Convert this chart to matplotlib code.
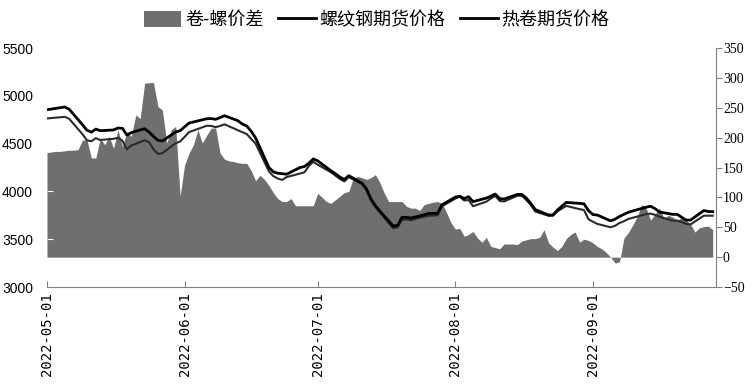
import matplotlib
matplotlib.use('Agg')
import matplotlib.pyplot as plt
import matplotlib.dates as mdates
from matplotlib.patches import Patch
from matplotlib.lines import Line2D
import pandas as pd

# trading days for futures prices (Chinese holidays removed)
holidays = ['2022-05-02', '2022-05-03', '2022-05-04', '2022-06-03', '2022-09-12']
trade_dates = pd.bdate_range('2022-04-29', '2022-09-28').drop(pd.to_datetime(holidays))
spread_dates = pd.date_range('2022-05-01', '2022-09-28')

# 热卷期货价格
hc = [4840,
      4883, 4860, 4697, 4640, 4620, 4652, 4635, 4643, 4663, 4660, 4590, 4615, 4656, 4620, 4575, 4535, 4527, 4622, 4635,
      4675, 4715, 4760, 4762, 4754, 4772, 4792, 4740, 4705, 4685, 4630, 4560, 4250, 4205, 4190, 4185, 4180, 4250, 4260, 4295, 4340,
      4320, 4215, 4185, 4150, 4125, 4165, 4085, 4025, 3920, 3850, 3795, 3638, 3645, 3730, 3728, 3722, 3755, 3770, 3770, 3770, 3860,
      3940, 3950, 3925, 3945, 3893, 3930, 3950, 3972, 3925, 3920, 3969, 3969, 3930, 3875, 3810, 3753, 3753, 3805, 3845, 3885, 3875, 3870, 3800,
      3758, 3753, 3692, 3710, 3738, 3760, 3782, 3835, 3845, 3820, 3785, 3760, 3760, 3730, 3700, 3700, 3800, 3790, 3788]

# 螺纹钢期货价格
rb = [4755,
      4780, 4760, 4598, 4535, 4525, 4557, 4538, 4550, 4562, 4530, 4440, 4480, 4535, 4515, 4440, 4392, 4400, 4505, 4522,
      4570, 4620, 4687, 4685, 4672, 4685, 4702, 4640, 4620, 4600, 4550, 4500, 4210, 4160, 4135, 4120, 4150, 4187, 4200, 4265, 4310,
      4280, 4200, 4165, 4130, 4105, 4150, 4075, 4015, 3905, 3835, 3780, 3615, 3625, 3705, 3705, 3700, 3735, 3745, 3748, 3750, 3845,
      3925, 3945, 3905, 3910, 3845, 3893, 3925, 3955, 3900, 3895, 3955, 3955, 3910, 3860, 3790, 3746, 3746, 3790, 3820, 3848, 3815, 3805, 3710,
      3683, 3660, 3625, 3640, 3670, 3688, 3712, 3762, 3768, 3755, 3735, 3694, 3694, 3680, 3660, 3655, 3746, 3746, 3746]

# 卷-螺价差 (daily)
spread = [175, 176, 177, 177, 178, 179, 179, 180,
          196, 196, 166, 166, 199, 188, 202, 182,
          213, 185, 210, 202, 238, 232, 291, 292,
          292, 252, 246, 191, 213, 219, 102, 154,
          174, 188, 213, 191, 204, 216, 216, 174,
          164, 161, 160, 158, 157, 157, 145, 128,
          137, 130, 120, 108, 98, 93, 93, 98,
          86, 86, 86, 86, 86, 107, 100, 93,
          90, 96, 102, 108, 110, 132, 135, 133,
          130, 133, 138, 125, 107, 93, 93, 93,
          93, 85, 82, 82, 78, 88, 90, 92,
          93, 90, 75, 58, 47, 48, 35, 38,
          43, 32, 25, 33, 18, 16, 14, 22,
          22, 22, 21, 27, 29, 31, 31, 33,
          46, 24, 17, 11, 18, 31, 38, 42,
          25, 30, 28, 24, 18, 14, 8, 0,
          -10, -8, 32, 41, 54, 68, 88, 82,
          62, 72, 82, 65, 70, 67, 62, 66,
          62, 55, 42, 49, 51, 52, 46]

month_ticks = ['2022-05-01', '2022-06-01', '2022-07-01', '2022-08-01', '2022-09-01']
labels = ['卷-螺价差', '螺纹钢期货价格', '热卷期货价格']

plt.rcParams['font.family'] = ['Noto Sans CJK SC', 'DejaVu Sans']

fill_c = '#6f6f6f'
axis_c = '#808080'

fig = plt.figure(figsize=(7.53, 3.85), dpi=100)
ax = fig.add_axes([0.0624, 0.2545, 0.8885, 0.6208])
ax2 = ax.twinx()

ax2.fill_between(spread_dates, 0, spread, color=fill_c, lw=0)
ax.set_zorder(ax2.get_zorder() + 1)
ax.patch.set_visible(False)

ax.plot(trade_dates, rb, color='#2b2b2b', lw=1.5)
ax.plot(trade_dates, hc, color='black', lw=2)

ax.set_xlim(pd.Timestamp('2022-05-01'), pd.Timestamp('2022-09-28 18:00'))
ax.set_ylim(3000, 5500)
ax2.set_ylim(-50, 350)
ax.set_yticks(range(3000, 5501, 500))
ax2.set_yticks(range(-50, 351, 50))
ax.set_xticks(pd.to_datetime(month_ticks))
ax.xaxis.set_major_formatter(mdates.DateFormatter('%Y-%m-%d'))

for s in ['top', 'left', 'right']:
    ax.spines[s].set_visible(False)
for s in ['top', 'left', 'bottom']:
    ax2.spines[s].set_visible(False)
ax.spines['bottom'].set_color(axis_c)
ax2.spines['right'].set_color(axis_c)

ax.tick_params(axis='x', direction='in', length=4, color=axis_c, pad=4,
               labelrotation=90, labelsize=10, labelfontfamily='DejaVu Sans Mono')
ax.tick_params(axis='y', direction='in', length=4, color='white', pad=10,
               labelsize=10, labelfontfamily='Liberation Sans')
ax2.tick_params(axis='y', direction='out', length=4, color=axis_c, pad=1,
                labelsize=10, labelfontfamily='Liberation Serif')

handles = [Patch(facecolor=fill_c, edgecolor='none'),
           Line2D([], [], color='black', lw=2),
           Line2D([], [], color='black', lw=2)]
fig.legend(handles, labels, loc='center', bbox_to_anchor=(0.5, 1 - 20 / 385), ncol=3,
           frameon=False, fontsize=13, handlelength=2.1, handleheight=0.95,
           handletextpad=0.2, columnspacing=0.8)

fig.savefig('out.png', dpi=100)
